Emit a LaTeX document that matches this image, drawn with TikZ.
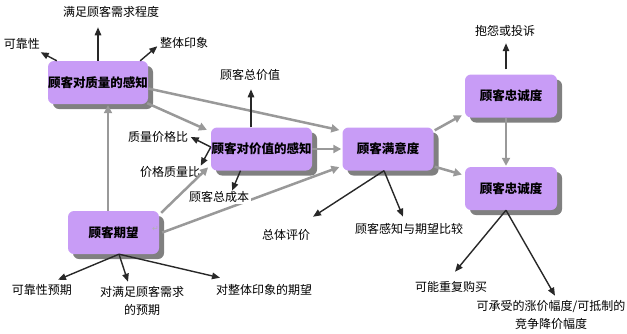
\documentclass[tikz,border=0pt]{standalone}
\usepackage{fontspec}
\setmainfont{Noto Sans CJK SC}
\newfontfamily\dejavu{DejaVu Sans}
\usetikzlibrary{arrows.meta,shadows}
\definecolor{boxfill}{RGB}{200,156,246}
\definecolor{shade}{RGB}{128,128,128}
\definecolor{garrowc}{RGB}{153,153,153}
\definecolor{darkc}{RGB}{40,40,40}
\begin{document}
\begin{tikzpicture}[x=1pt,y=-1pt,
  box/.style={rectangle, rounded corners=6pt, fill=boxfill, inner sep=0pt,
    minimum height=43pt, font=\fontsize{12.5}{14}\selectfont\bfseries,
    drop shadow={shadow xshift=5pt, shadow yshift=-5pt, fill=shade, opacity=1}},
  lbl/.style={inner sep=1.5pt, font=\fontsize{12}{18}\selectfont, align=center, text=black},
  wlbl/.style={lbl, fill=white},
  garrow/.style={draw=garrowc, line width=2.5pt, -{Triangle[length=8pt,width=8pt]}, shorten >=1pt},
  darrow/.style={draw=darkc, line width=1.4pt, -{Triangle[length=8pt,width=6.5pt]}}
]
\useasboundingbox (0,0) rectangle (627,333);

% boxes
\node[box, minimum width=100pt] (q) at (98,82.5) {顾客对质量的感知};
\node[box, minimum width=101pt] (v) at (261.5,149) {顾客对价值的感知};
\node[box, minimum width=91pt] (s) at (388,149) {顾客满意度};
\node[box, minimum width=92pt] (l1) at (511,96) {顾客忠诚度};
\node[box, minimum width=92pt] (l2) at (511,188.5) {顾客忠诚度};
\node[box, minimum width=91pt] (e) at (113.5,232.5) {顾客期望};

% labels
\node[lbl] (t1) at (111,12) {满足顾客需求程度};
\node[lbl] (t2) at (22,44) {可靠性};
\node[lbl] (t3) at (184,43) {整体印象};
\node[lbl] (t4) at (250,75) {顾客总价值};
\node[lbl] (t5) at (158,137) {质量价格比};
\node[lbl] (t6) at (170,172) {价格质量比};
\node[lbl] (t8) at (286,235) {总体评价};
\node[lbl] (t9) at (409,229) {顾客感知与期望比较};
\node[lbl] (t10) at (505,31) {抱怨或投诉};
\node[lbl] (t11) at (451,287) {可能重复购买};
\node[lbl] (t12) at (551,315) {可承受的涨价幅度/可抵制的\\竞争降价幅度};
\node[lbl] (t13) at (42,290) {可靠性预期};
\node[lbl] (t14) at (142,301) {对满足顾客需求\\的预期};
\node[lbl] (t15) at (264,290) {对整体印象的期望};
\node[text=gray!60, font=\dejavu\fontsize{8}{8}\selectfont, inner sep=0pt] (ret) at (155.5,229) {↵};

% gray connectors
\draw[garrow] ([xshift=-5.5pt]e.north) -- ([xshift=10pt]q.south);
\draw[garrow] ([xshift=-1pt,yshift=1pt]q.south east) -- ([xshift=-3pt,yshift=-3pt]v.north west);
\draw[garrow] ([yshift=-6pt]q.east) -- ([xshift=-2pt,yshift=-3pt]s.north west);
\draw[garrow] (v.east) -- (s.west);
\draw[garrow] ([xshift=2pt,yshift=-2pt]e.north east) -- ([xshift=-2pt,yshift=4pt]v.south west);
\draw[garrow] ([xshift=3pt]e.east) -- ([xshift=-2pt,yshift=4pt]s.south west);
\draw[garrow] ([xshift=1pt,yshift=-3pt]s.north east) -- ([xshift=-2pt,yshift=3pt]l1.south west);
\draw[garrow] ([xshift=1pt,yshift=4pt]s.south east) -- ([xshift=-2pt,yshift=-8pt]l2.north west);
\draw[garrow] ([xshift=-5pt]l1.south) -- ([xshift=-5pt]l2.north);

% label on top of gray line
\node[wlbl] (t7) at (219,197) {顾客总成本};

% dark connectors
\draw[darrow] (q.north) -- ([xshift=-13pt,yshift=-8pt]t1.south);
\draw[darrow] ([xshift=9pt]q.north west) -- ([xshift=-1pt,yshift=-1pt]t2.south east);
\draw[darrow] ([xshift=-8pt]q.north east) -- ([xshift=-1pt,yshift=4pt]t3.south west);
\draw[darrow] ([xshift=-10.5pt]v.north) -- ([xshift=1pt,yshift=-7pt]t4.south);
\draw[darrow] ([yshift=2pt]v.west) -- ([xshift=1pt]t5.east);
\draw[darrow] ([yshift=2pt]v.west) -- ([xshift=-1pt,yshift=-1pt]t6.north east);
\draw[darrow] ([xshift=-21pt]v.south) -- ([xshift=13pt,yshift=-1pt]t7.north);
\draw[darrow] ([xshift=-4pt]s.south) -- ([xshift=27pt,yshift=11pt]t8.north);
\draw[darrow] ([xshift=-4pt]s.south) -- ([xshift=-6pt,yshift=5pt]t9.north);
\draw[darrow] ([xshift=-5pt,yshift=5pt]l1.north) -- ([xshift=1pt,yshift=-5pt]t10.south);
\draw[darrow] ([xshift=-5pt]l2.south) -- ([xshift=4pt,yshift=8pt]t11.north);
\draw[darrow] ([xshift=-5pt]l2.south) -- ([xshift=4pt,yshift=3pt]t12.north);
\draw[darrow] ([xshift=5.5pt]e.south) -- ([xshift=16pt,yshift=3pt]t13.north);
\draw[darrow] ([xshift=5.5pt]e.south) -- ([xshift=-14pt,yshift=3pt]t14.north);
\draw[darrow] ([xshift=5.5pt]e.south) -- ([xshift=-44pt,yshift=5pt]t15.north);
\end{tikzpicture}
\end{document}
